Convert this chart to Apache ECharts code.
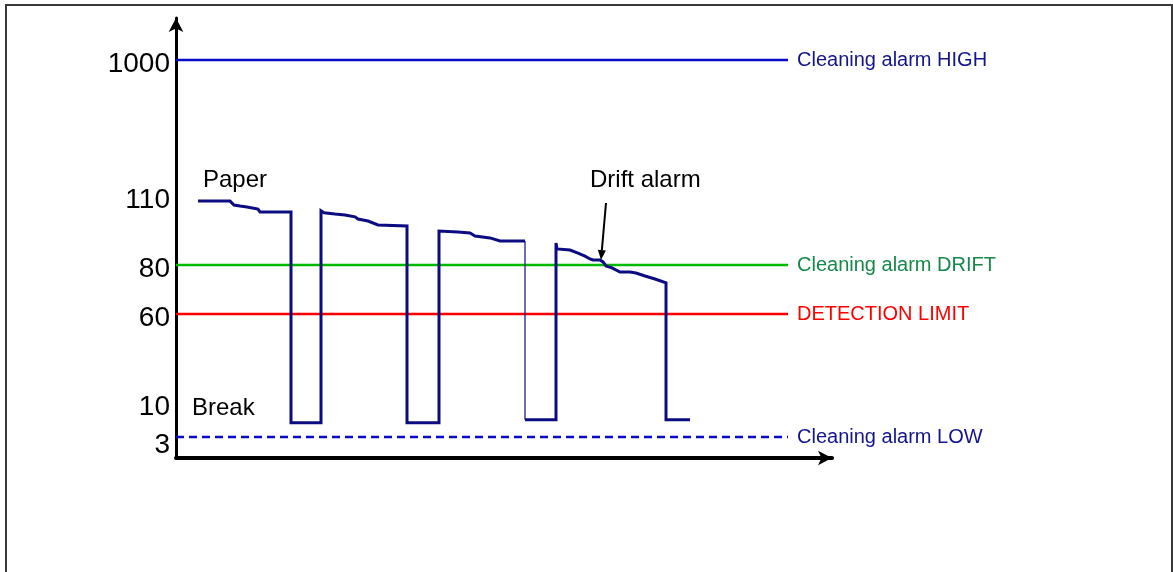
<!DOCTYPE html>
<html>
<head>
<meta charset="utf-8">
<script src="https://cdn.jsdelivr.net/npm/echarts@6/dist/echarts.min.js"></script>
<style>
  html, body { margin: 0; padding: 0; background: #fff; }
  #chart { width: 1173px; height: 572px; }
</style>
</head>
<body>
<div id="chart"></div>
<script>
// Paper signal level over time (arbitrary time units); null marks a pen lift
const paperTime  = [22, 54, 58, 64, 71, 82, 84, 94, 115, 115, 145, 145, 148, 159, 169, 179, 182, 192, 202, 231, 231, 263, 263, 282, 294, 299, 314, 324, 349,
                    349, 349, 380, 380, 381, 394, 402, 409, 414, 417, 424, 427, 430, 436, 444, 454, 460, 469, 479, 490, 490, 514];
const paperLevel = [109.5, 109.5, 107.7, 107.2, 106.8, 105.8, 104.5, 104.5, 104.5, 6.3, 6.3, 105.0, 104.1, 103.5, 103.1, 102.2, 101.2, 100.3, 98.5, 98.0, 6.3, 6.3, 95.7, 95.2, 94.8, 93.4, 92.5, 91.1, 91.1,
                    null, 7.0, 7.0, 90.2, 87.4, 86.9, 85.5, 84.1, 82.8, 82.3, 82.3, 81.4, 79.6, 78.8, 77.1, 77.1, 76.7, 75.5, 74.3, 72.7, 7.0, 7.0];
// Fast drop during the third break (drawn thin)
const dropTime  = [349, 349];
const dropLevel = [91.1, 7.0];

// Alarm / limit levels
const limitNames  = ['Cleaning alarm HIGH', 'Cleaning alarm DRIFT', 'DETECTION LIMIT', 'Cleaning alarm LOW'];
const limitValues = [1000, 80, 60, 3];
const limitSpan   = [0, 612];

// Y axis tick labels (schematic, non-linear scale)
const tickValues = [3, 10, 60, 80, 110, 1000];

// Schematic scale: each tick value is placed at a fixed axis position
const tickAxisPos = [21, 51, 144, 193, 258, 398];
function toAxis(v) {
  if (v <= tickValues[0]) return tickAxisPos[0] * v / tickValues[0];
  for (let i = 1; i < tickValues.length; i++) {
    if (v <= tickValues[i]) {
      const f = (v - tickValues[i - 1]) / (tickValues[i] - tickValues[i - 1]);
      return tickAxisPos[i - 1] + f * (tickAxisPos[i] - tickAxisPos[i - 1]);
    }
  }
  return tickAxisPos[tickAxisPos.length - 1];
}

const FONT = '"Liberation Sans", Arial, Helvetica, sans-serif';
const limitLineColors = ['#0a0acc', '#00bb00', '#ff0000', '#0a0acc'];
const limitTextColors = ['#14148c', '#15884a', '#ff0000', '#14148c'];

const paperData = paperTime.map((t, i) => [t, paperLevel[i] == null ? '-' : toAxis(paperLevel[i])]);
const dropData = dropTime.map((t, i) => [t, toAxis(dropLevel[i])]);

const limitSeries = limitNames.map((name, i) => ({
  type: 'line',
  name: name,
  data: limitSpan.map(t => [t, toAxis(limitValues[i])]),
  symbol: 'none',
  silent: true,
  lineStyle: {
    color: limitLineColors[i],
    width: 2.5,
    type: i === 3 ? [8, 5] : 'solid'
  },
  endLabel: {
    show: true,
    formatter: name,
    color: limitTextColors[i],
    fontFamily: FONT,
    fontSize: 20,
    distance: 9
  },
  z: 2
}));

const chart = echarts.init(document.getElementById('chart'), null, { renderer: 'canvas' });

chart.setOption({
  animation: false,
  backgroundColor: '#ffffff',
  grid: { left: 176, right: 341, top: 18, bottom: 114 },
  xAxis: {
    type: 'value',
    min: 0,
    max: 656,
    axisLine: {
      show: true,
      symbol: ['none', 'arrow'],
      symbolSize: [11, 14],
      lineStyle: { color: '#000', width: 4 }
    },
    axisTick: { show: false },
    axisLabel: { show: false },
    splitLine: { show: false }
  },
  yAxis: {
    type: 'value',
    min: 0,
    max: 440,
    axisLine: {
      show: true,
      symbol: ['none', 'arrow'],
      symbolSize: [11, 14],
      lineStyle: { color: '#000', width: 3 }
    },
    axisTick: { show: false },
    splitLine: { show: false },
    axisLabel: {
      show: true,
      customValues: tickAxisPos,
      margin: 6,
      color: '#000',
      fontFamily: FONT,
      fontSize: 28,
      formatter: function (val) {
        const i = tickAxisPos.findIndex(p => Math.abs(p - val) < 0.5);
        if (i < 0) return '';
        const v = tickValues[i];
        const style = v === 3 ? 'low' : (v === 10 || v === 110 ? 'n' : 'a');
        return '{' + style + '|' + v + '}';
      },
      rich: {
        n: { fontSize: 28, fontFamily: FONT, color: '#000' },
        a: { fontSize: 28, fontFamily: FONT, color: '#000', padding: [8, 0, 0, 0] },
        low: { fontSize: 28, fontFamily: FONT, color: '#000', padding: [16, 0, 0, 0] }
      }
    }
  },
  series: limitSeries.concat([
    {
      type: 'line',
      name: 'Paper',
      data: paperData,
      symbol: 'none',
      connectNulls: false,
      lineStyle: { color: '#0c0c82', width: 3, join: 'miter' },
      z: 3
    },
    {
      type: 'line',
      name: 'Paper drop',
      data: dropData,
      symbol: 'none',
      lineStyle: { color: '#0c0c82', width: 1.2 },
      z: 3
    }
  ])
});

// Annotations: frame, text notes and the drift-alarm pointer
const tip = chart.convertToPixel({ gridIndex: 0 }, [425, toAxis(82.3)]);
const tail = [tip[0] + 5, tip[1] - 57];
const ang = Math.atan2(tip[1] - tail[1], tip[0] - tail[0]);
const headLen = 10, headHalf = 4;
const hx = tip[0] - headLen * Math.cos(ang), hy = tip[1] - headLen * Math.sin(ang);
const px = -Math.sin(ang) * headHalf, py = Math.cos(ang) * headHalf;

const noteStyle = { fill: '#000', font: '24px ' + FONT, textVerticalAlign: 'middle' };

chart.setOption({
  graphic: [
    {
      type: 'rect',
      shape: { x: 6, y: 5, width: 1166, height: 620 },
      style: { fill: 'none', stroke: '#3a3a3a', lineWidth: 2 },
      silent: true
    },
    { type: 'text', left: 203, top: 168, style: Object.assign({ text: 'Paper' }, noteStyle) },
    { type: 'text', left: 192, top: 396, style: Object.assign({ text: 'Break' }, noteStyle) },
    { type: 'text', left: 590, top: 168, style: Object.assign({ text: 'Drift alarm' }, noteStyle) },
    {
      type: 'line',
      shape: { x1: tail[0], y1: tail[1], x2: hx, y2: hy },
      style: { stroke: '#000', lineWidth: 2 },
      z: 10
    },
    {
      type: 'polygon',
      shape: { points: [[tip[0], tip[1]], [hx + px, hy + py], [hx - px, hy - py]] },
      style: { fill: '#000' },
      z: 10
    }
  ]
});
</script>
</body>
</html>
